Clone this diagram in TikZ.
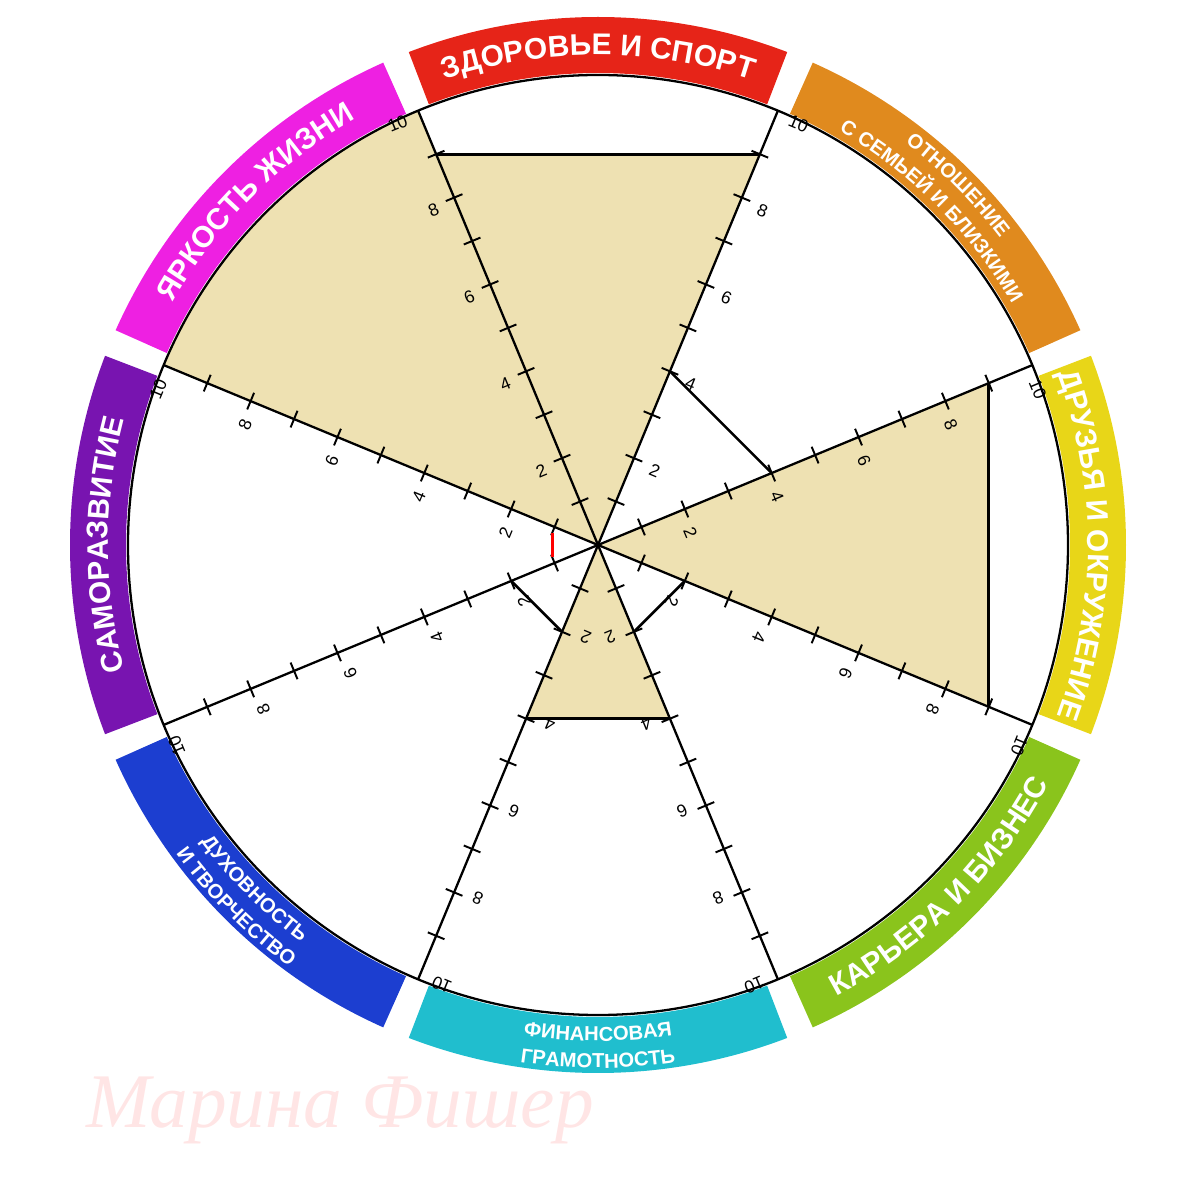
\documentclass[tikz,border=0pt]{standalone}
\usepackage{fontspec}
\setmainfont{Liberation Sans}
\newfontfamily\wmfont{Liberation Serif}
\usetikzlibrary{decorations.text}
\definecolor{cHealth}{RGB}{230,36,24}
\definecolor{cFamily}{RGB}{224,138,30}
\definecolor{cFriends}{RGB}{232,214,24}
\definecolor{cCareer}{RGB}{138,196,28}
\definecolor{cMoney}{RGB}{32,190,206}
\definecolor{cSpirit}{RGB}{28,62,208}
\definecolor{cSelf}{RGB}{120,20,176}
\definecolor{cBright}{RGB}{238,32,226}
\definecolor{cFill}{RGB}{238,225,178}
\newcommand\bandfont{\bfseries\fontsize{17}{17}\selectfont\color{white}}
\newcommand\smallband{\bfseries\fontsize{11.5}{11.5}\selectfont\color{white}}
\tikzset{
  spoke/.style={line width=1.3pt},
  tick/.style={line width=1.1pt},
  score/.style={line width=1.5pt},
  num/.style={font=\fontsize{10}{10}\selectfont, inner sep=0pt},
}
\newcommand\band[2]{% centre angle, colour
  \fill[#2] (#1-21:472) arc[start angle=#1-21,end angle=#1+21,radius=472]
    -- (#1+21:528) arc[start angle=#1+21,end angle=#1-21,radius=528] -- cycle;}
\begin{document}
\begin{tikzpicture}[x=0.2mm,y=0.2mm]
\useasboundingbox (-598,-655) rectangle (602,545);
% filled scores
\fill[cFill] (0,0) -- (112.5:423) -- (67.5:423) -- cycle;
\fill[cFill] (0,0) -- (22.5:423) -- (-22.5:423) -- cycle;
\fill[cFill] (0,0) -- (112.5:470) arc[start angle=112.5,end angle=157.5,radius=470] -- cycle;
\fill[cFill] (0,0) -- (-67.5:188) -- (-112.5:188) -- cycle;
% wheel
\draw[line width=1.3pt] (0,0) circle[radius=470];
\foreach \a/\c in {90/cHealth,45/cFamily,0/cFriends,-45/cCareer,-90/cMoney,-135/cSpirit,180/cSelf,135/cBright}
  \band{\a}{\c};
\foreach \a in {22.5,67.5,112.5,157.5}
  \draw[spoke] (\a:470) -- (\a+180:470);
% ticks and numbers
\foreach \a/\s in {22.5/-1,67.5/-1,112.5/1,157.5/1,202.5/1,247.5/1,292.5/-1,337.5/-1}{
  \begin{scope}[rotate=\a]
    \foreach \i in {1,...,9}
      \draw[tick] (\i*47,-9) -- (\i*47,9);
    \foreach \i in {2,4,...,10}
      \node[num, rotate=\a-90] at (\i*47-4,\s*24) {\i};
  \end{scope}}
% score lines
\draw[score] (112.5:423) -- (67.5:423);
\draw[score] (67.5:188) -- (22.5:188);
\draw[score] (22.5:423) -- (-22.5:423);
\draw[score] (-22.5:94) -- (-67.5:94);
\draw[score] (-67.5:188) -- (-112.5:188);
\draw[score] (-112.5:94) -- (-157.5:94);
\draw[score, red] (165:47) -- (195:47);
% band labels
\path[decorate, decoration={text along path, text align=center, text={|\bandfont|ЗДОРОВЬЕ И СПОРТ}}]
  (111:490) arc[start angle=111,end angle=69,radius=490];
\path[decorate, decoration={text along path, text align=center, text={|\smallband|ОТНОШЕНИЕ}}]
  (66:506) arc[start angle=66,end angle=24,radius=506];
\path[decorate, decoration={text along path, text align=center, text={|\smallband|С СЕМЬЕЙ И БЛИЗКИМИ}}]
  (66:479) arc[start angle=66,end angle=24,radius=479];
\path[decorate, decoration={text along path, text align=center, text={|\bandfont|ДРУЗЬЯ И ОКРУЖЕНИЕ}}]
  (21:490) arc[start angle=21,end angle=-21,radius=490];
\path[decorate, decoration={text along path, text align=center, text={|\bandfont|КАРЬЕРА И БИЗНЕС}}]
  (-66:510) arc[start angle=-66,end angle=-24,radius=510];
\path[decorate, decoration={text along path, text align=center, text={|\smallband|ФИНАНСОВАЯ}}]
  (-111:496) arc[start angle=-111,end angle=-69,radius=496];
\path[decorate, decoration={text along path, text align=center, text={|\smallband|ГРАМОТНОСТЬ}}]
  (-111:523) arc[start angle=-111,end angle=-69,radius=523];
\path[decorate, decoration={text along path, text align=center, text={|\smallband|ДУХОВНОСТЬ}}]
  (-156:496) arc[start angle=-156,end angle=-114,radius=496];
\path[decorate, decoration={text along path, text align=center, text={|\smallband|И ТВОРЧЕСТВО}}]
  (-156:523) arc[start angle=-156,end angle=-114,radius=523];
\path[decorate, decoration={text along path, text align=center, text={|\bandfont|САМОРАЗВИТИЕ}}]
  (201:490) arc[start angle=201,end angle=159,radius=490];
\path[decorate, decoration={text along path, text align=center, text={|\bandfont|ЯРКОСТЬ ЖИЗНИ}}]
  (156:490) arc[start angle=156,end angle=114,radius=490];
% watermark
\node[text=red!10, font=\wmfont\itshape\fontsize{44}{44}\selectfont] (mark) at (-258,-565) {Марина Фишер};
\end{tikzpicture}
\end{document}
